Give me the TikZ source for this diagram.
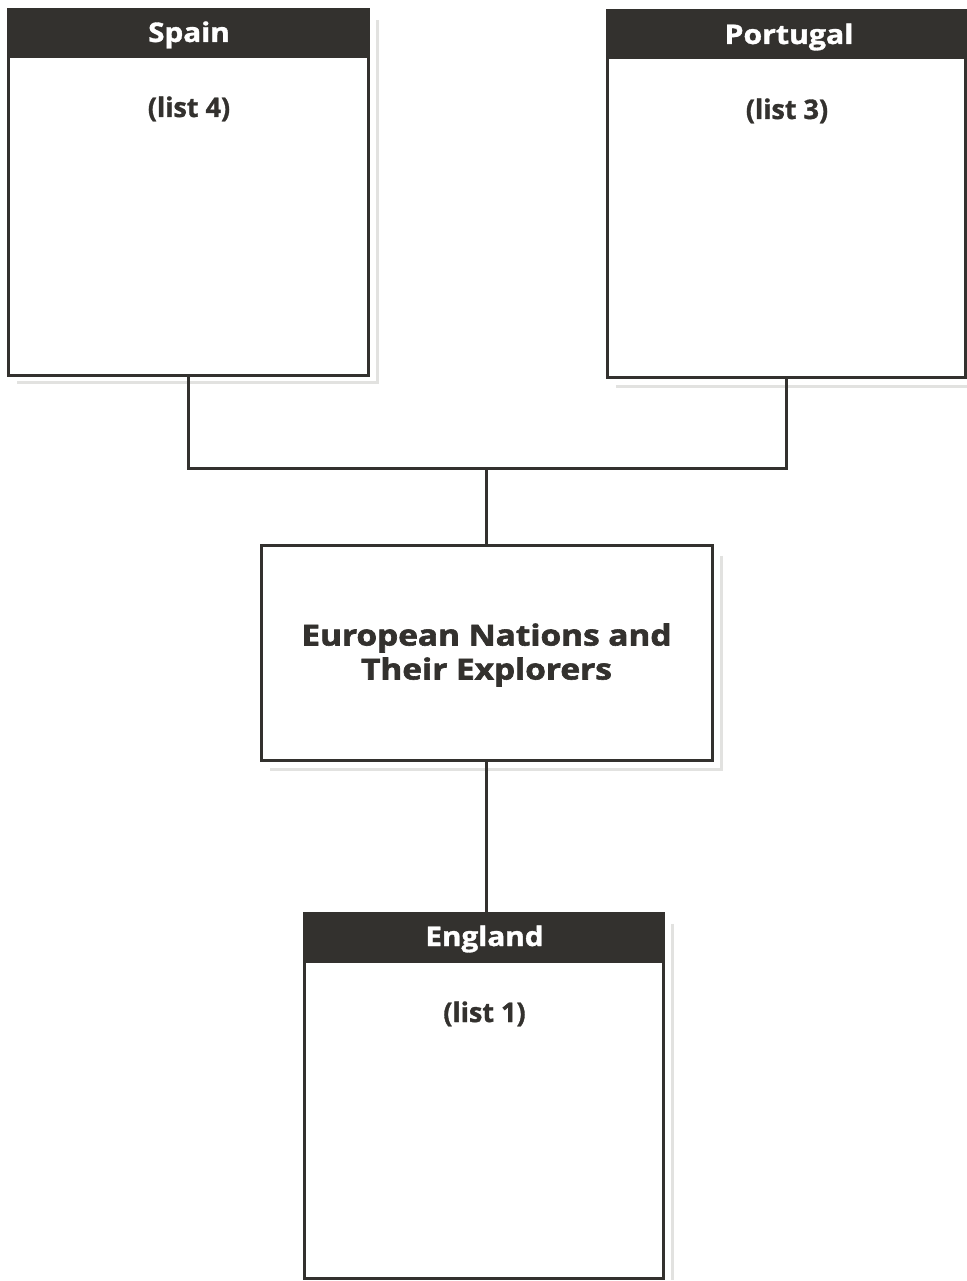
\documentclass[tikz,border=0pt]{standalone}
\usepackage{fontspec}
\usepackage{graphicx}
\setmainfont{Open Sans}[BoldFeatures={FakeBold=1.2}]
\newfontfamily\titlefamily{Open Sans}[BoldFeatures={FakeBold=2}]
\usetikzlibrary{calc}
\definecolor{ink}{HTML}{33312E}
\definecolor{shade}{HTML}{E2E2E0}
\tikzset{
  panel/.style={draw=ink, line width=3pt, fill=white, rectangle, inner sep=0pt},
  headbar/.style={draw=ink, line width=3pt, fill=ink, rectangle, inner sep=0pt},
  headtext/.style={text=white, inner sep=0pt, anchor=base, font=\fontsize{27}{32}\selectfont\bfseries},
  listtext/.style={text=ink, inner sep=0pt, anchor=base, font=\fontsize{27}{32}\selectfont\bfseries},
  titletext/.style={text=ink, inner sep=0pt, align=center, font=\titlefamily\fontsize{29}{34}\selectfont\bfseries},
  link/.style={draw=ink, line width=3pt},
  dropshadow/.style={draw=shade, line width=3pt}
}
\begin{document}
\begin{tikzpicture}[x=1pt,y=-1pt]
\useasboundingbox (0,0) rectangle (966,1281);
% Spain
\node[panel, minimum width=360pt, minimum height=365pt] (spain) at (188,192.5) {};
\draw[dropshadow] ($(spain.north east)+(8,12)$) -- ($(spain.south east)+(8,6)$) -- ($(spain.south west)+(10,6)$);
\node[headbar, minimum width=360pt, minimum height=47pt] (spainhead) at (188,33.5) {};
\node[headtext] (spainname) at (189,42) {\scalebox{1.1}[1]{Spain}};
\node[listtext] (spainlist) at (189,117) {(list 4)};
% Portugal
\node[panel, minimum width=358pt, minimum height=366pt] (portugal) at (786,194) {};
\draw[dropshadow] ($(portugal.south east)+(6,8)$) -- ($(portugal.south west)+(10,8)$);
\node[headbar, minimum width=358pt, minimum height=47pt] (portugalhead) at (786,34.5) {};
\node[headtext] (portugalname) at (789,44) {\scalebox{1.12}[1]{Portugal}};
\node[listtext] (portugallist) at (787,119) {(list 3)};
% Centre
\node[panel, minimum width=451pt, minimum height=215pt] (centre) at (486.5,652.5) {};
\draw[dropshadow] ($(centre.north east)+(8,12)$) -- ($(centre.south east)+(8,8)$) -- ($(centre.south west)+(10,8)$);
\node[titletext] (title) at (486.5,655) {\scalebox{1.15}[1]{European Nations and}\\\scalebox{1.15}[1]{Their Explorers}};
% England
\node[panel, minimum width=359pt, minimum height=365pt] (england) at (483.5,1095.5) {};
\draw[dropshadow] ($(england.north east)+(8,12)$) -- ($(england.south east)+(8,0)$);
\node[headbar, minimum width=359pt, minimum height=48pt] (englandhead) at (483.5,937) {};
\node[headtext] (englandname) at (484.5,946) {\scalebox{1.1}[1]{England}};
\node[listtext] (englandlist) at (484.5,1022) {(list 1)};
% Connectors
\coordinate (join) at (486.5,468);
\draw[link] (spain.south) |- (join) -| (portugal.south);
\draw[link] (join) -- (centre.north);
\draw[link] (centre.south) -- (centre.south |- englandhead.north);
\end{tikzpicture}
\end{document}
